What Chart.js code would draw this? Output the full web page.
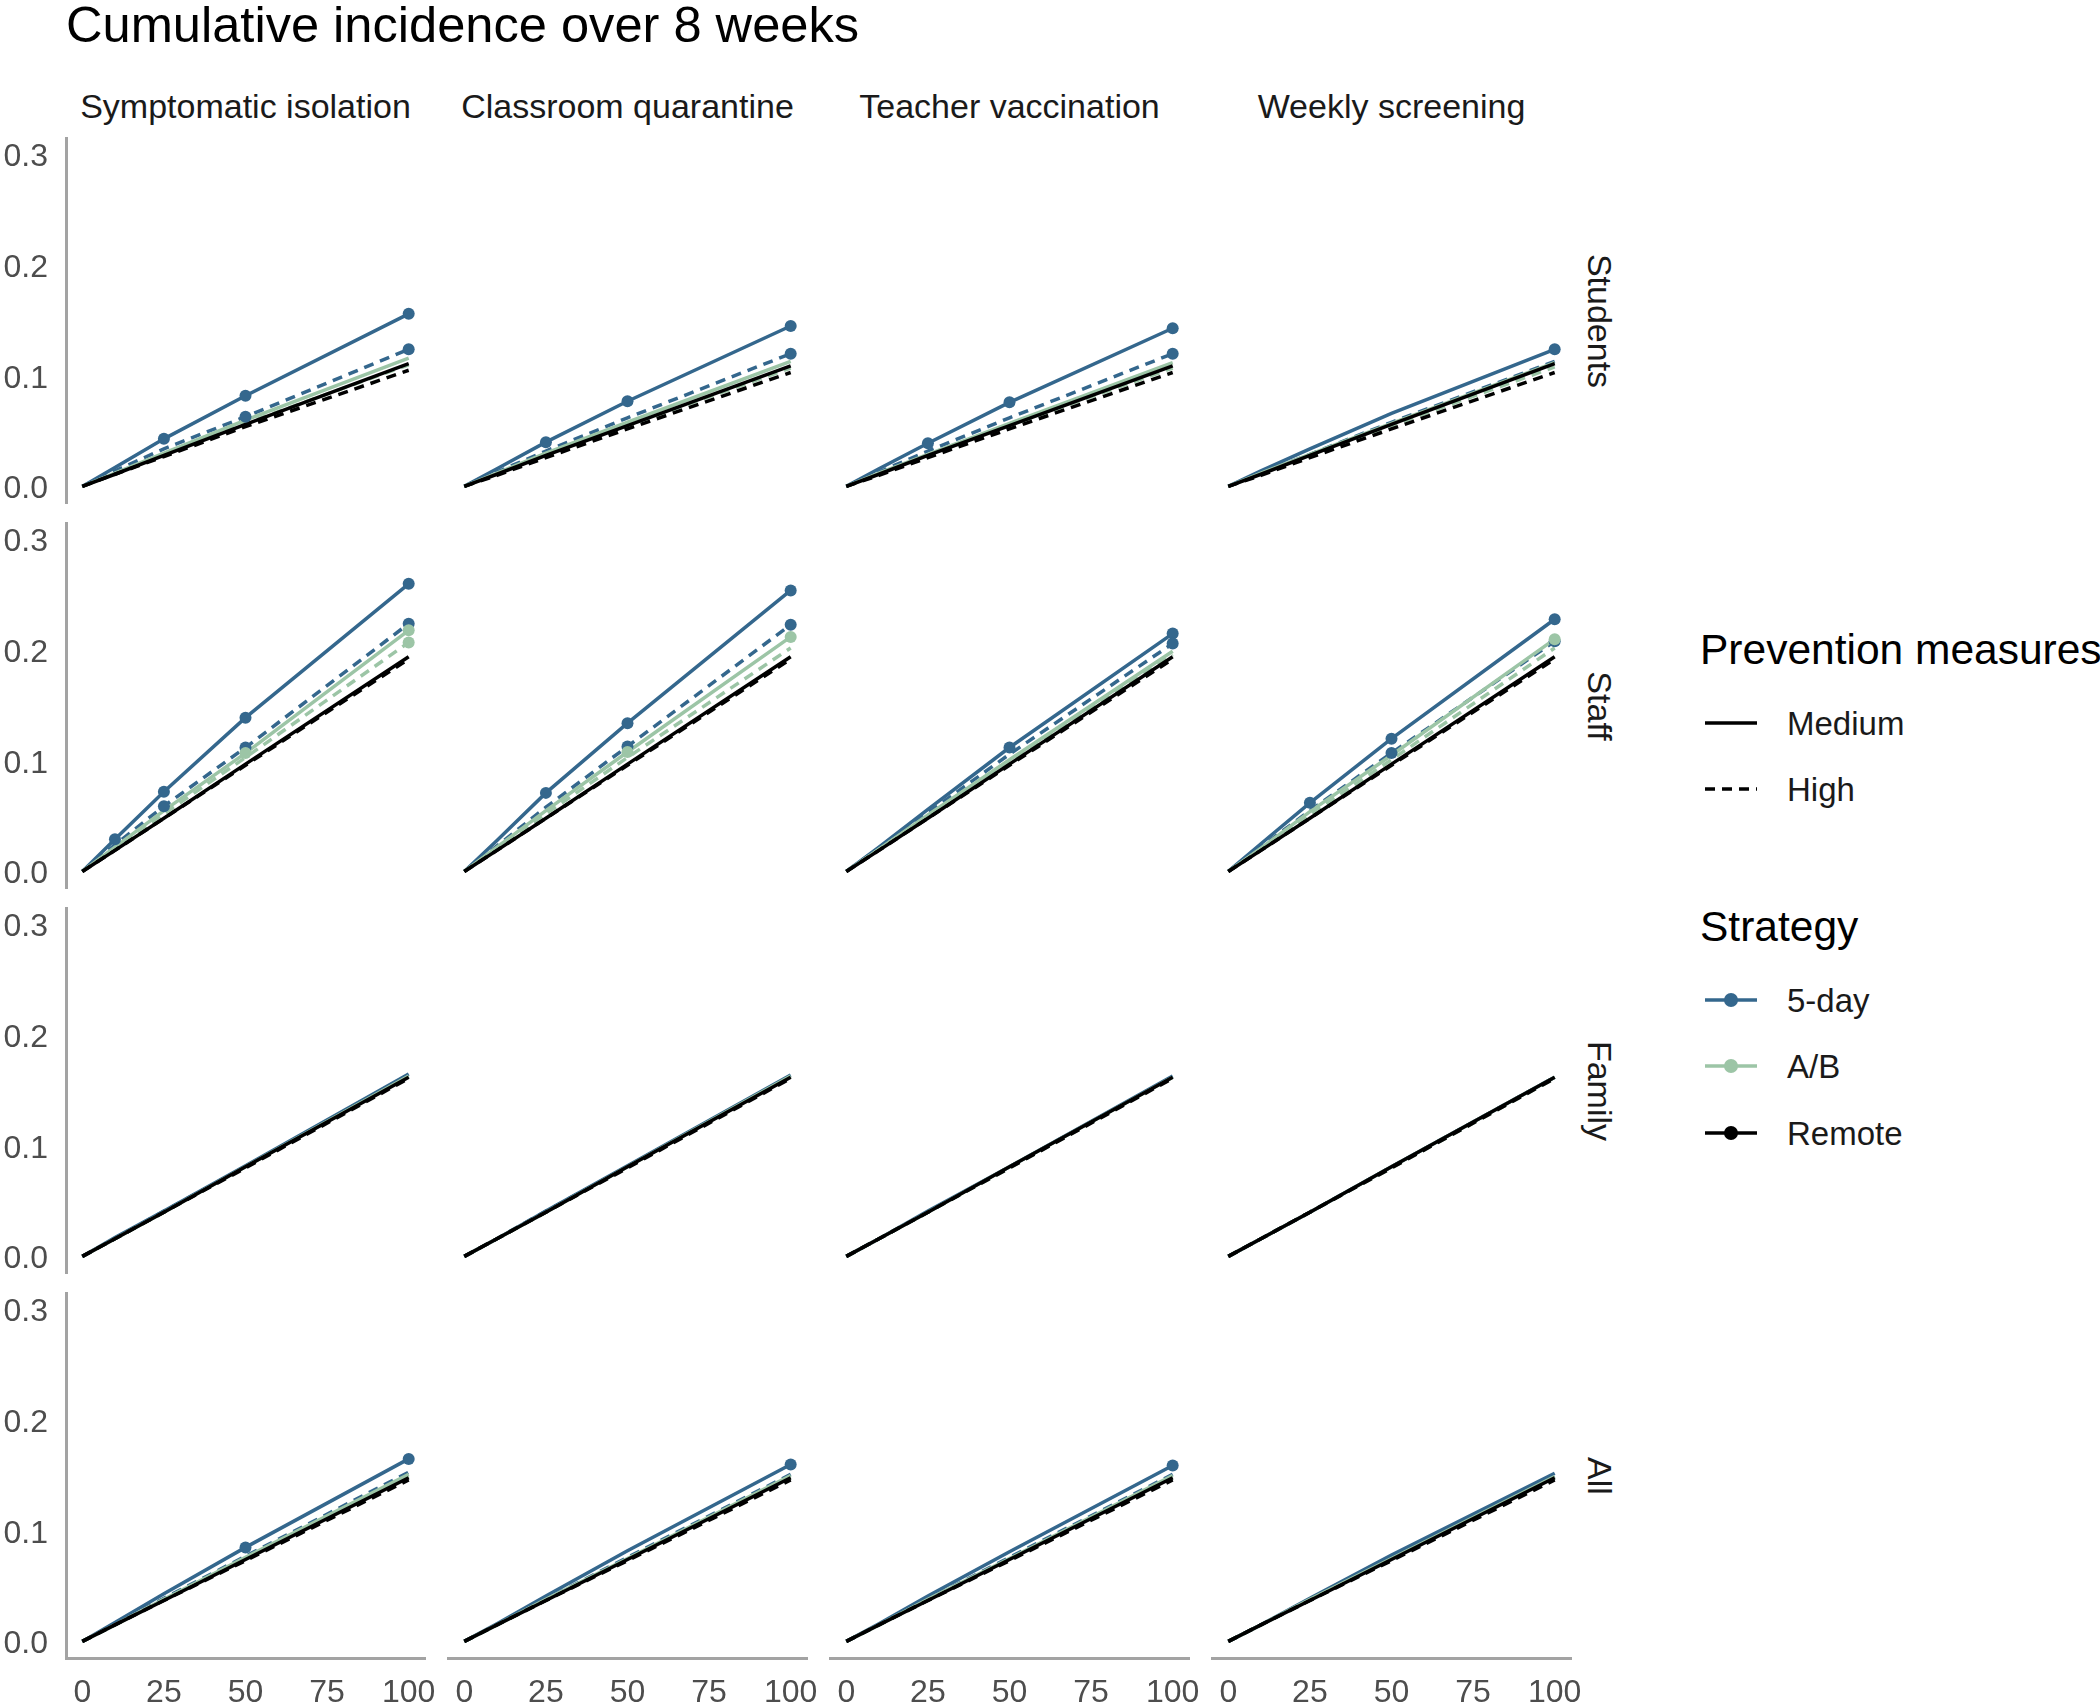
<!DOCTYPE html>
<html>
<head>
<meta charset="utf-8">
<script src="https://cdn.jsdelivr.net/npm/chart.js@4.4.1/dist/chart.umd.min.js"></script>
<style>
  body { margin: 0; background: #fff; font-family: 'Liberation Sans', Arial, sans-serif; }
  #page { position: relative; width: 2100px; height: 1702px; overflow: hidden; background: #fff; }
  .lbl { position: absolute; white-space: nowrap; line-height: 1; }
  .center { transform: translate(-50%, -50%); }
  .rot { transform: translate(-50%, -50%) rotate(90deg); }
</style>
</head>
<body>
<div id="page"></div>
<script>
// ---- data ----
const xValues = [0, 10, 25, 50, 100];
const xTicks = [0, 25, 50, 75, 100];
const yTicks = [0, 0.1, 0.2, 0.3];
const interventions = ['Symptomatic isolation', 'Classroom quarantine', 'Teacher vaccination', 'Weekly screening'];
const groups = ['Students', 'Staff', 'Family', 'All'];
const strategies = ['5-day', 'A/B', 'Remote'];
const measures = ['Medium', 'High'];

// one row per intervention (columns of the grid), values at xValues
const studentsFiveDayMedium = [
  [0, 0.017, 0.043, 0.082, 0.156],
  [0, 0.016, 0.040, 0.077, 0.145],
  [0, 0.016, 0.039, 0.076, 0.143],
  [0, 0.014, 0.034, 0.066, 0.124]];
const studentsFiveDayHigh = [
  [0, 0.014, 0.034, 0.063, 0.124],
  [0, 0.013, 0.032, 0.062, 0.120],
  [0, 0.013, 0.032, 0.062, 0.120],
  [0, 0.012, 0.029, 0.058, 0.113]];
const studentsABMedium = [
  [0, 0.012, 0.030, 0.060, 0.116],
  [0, 0.012, 0.030, 0.058, 0.113],
  [0, 0.012, 0.029, 0.057, 0.112],
  [0, 0.012, 0.029, 0.057, 0.112]];
const studentsABHigh = [
  [0, 0.011, 0.028, 0.057, 0.110],
  [0, 0.011, 0.028, 0.055, 0.107],
  [0, 0.011, 0.028, 0.055, 0.107],
  [0, 0.011, 0.028, 0.055, 0.108]];
const studentsRemoteMedium = [
  [0, 0.011, 0.028, 0.056, 0.111],
  [0, 0.011, 0.028, 0.055, 0.109],
  [0, 0.011, 0.028, 0.055, 0.109],
  [0, 0.011, 0.028, 0.056, 0.111]];
const studentsRemoteHigh = [
  [0, 0.011, 0.027, 0.054, 0.105],
  [0, 0.010, 0.026, 0.052, 0.103],
  [0, 0.010, 0.026, 0.052, 0.103],
  [0, 0.010, 0.026, 0.052, 0.103]];

const staffFiveDayMedium = [
  [0, 0.029, 0.072, 0.139, 0.260],
  [0, 0.028, 0.071, 0.134, 0.254],
  [0, 0.022, 0.056, 0.112, 0.215],
  [0, 0.025, 0.062, 0.120, 0.228]];
const staffFiveDayHigh = [
  [0, 0.024, 0.059, 0.112, 0.224],
  [0, 0.023, 0.058, 0.113, 0.223],
  [0, 0.021, 0.053, 0.106, 0.206],
  [0, 0.022, 0.055, 0.107, 0.208]];
const staffABMedium = [
  [0, 0.022, 0.055, 0.107, 0.218],
  [0, 0.022, 0.055, 0.108, 0.212],
  [0, 0.020, 0.051, 0.101, 0.199],
  [0, 0.021, 0.054, 0.105, 0.210]];
const staffABHigh = [
  [0, 0.021, 0.052, 0.103, 0.207],
  [0, 0.021, 0.052, 0.103, 0.202],
  [0, 0.020, 0.050, 0.099, 0.196],
  [0, 0.020, 0.051, 0.101, 0.202]];
const staffRemoteMedium = [
  [0, 0.019, 0.048, 0.097, 0.194],
  [0, 0.019, 0.048, 0.097, 0.194],
  [0, 0.019, 0.048, 0.097, 0.194],
  [0, 0.019, 0.048, 0.097, 0.194]];
const staffRemoteHigh = [
  [0, 0.019, 0.048, 0.096, 0.192],
  [0, 0.019, 0.048, 0.096, 0.192],
  [0, 0.019, 0.048, 0.096, 0.192],
  [0, 0.019, 0.048, 0.096, 0.192]];

const familyFiveDayMedium = [
  [0, 0.017, 0.041, 0.082, 0.165],
  [0, 0.016, 0.041, 0.082, 0.164],
  [0, 0.016, 0.041, 0.081, 0.163],
  [0, 0.016, 0.040, 0.081, 0.162]];
const familyFiveDayHigh = [
  [0, 0.016, 0.041, 0.081, 0.163],
  [0, 0.016, 0.041, 0.081, 0.163],
  [0, 0.016, 0.040, 0.081, 0.162],
  [0, 0.016, 0.040, 0.081, 0.162]];
const familyABMedium = [
  [0, 0.016, 0.040, 0.081, 0.163],
  [0, 0.016, 0.040, 0.081, 0.163],
  [0, 0.016, 0.040, 0.081, 0.162],
  [0, 0.016, 0.040, 0.081, 0.162]];
const familyABHigh = [
  [0, 0.016, 0.040, 0.081, 0.162],
  [0, 0.016, 0.040, 0.081, 0.162],
  [0, 0.016, 0.040, 0.080, 0.162],
  [0, 0.016, 0.040, 0.080, 0.161]];
const familyRemoteMedium = [
  [0, 0.016, 0.040, 0.081, 0.162],
  [0, 0.016, 0.040, 0.081, 0.162],
  [0, 0.016, 0.040, 0.081, 0.162],
  [0, 0.016, 0.040, 0.081, 0.162]];
const familyRemoteHigh = [
  [0, 0.016, 0.040, 0.080, 0.161],
  [0, 0.016, 0.040, 0.080, 0.161],
  [0, 0.016, 0.040, 0.080, 0.161],
  [0, 0.016, 0.040, 0.080, 0.161]];

const allFiveDayMedium = [
  [0, 0.017, 0.043, 0.085, 0.165],
  [0, 0.016, 0.041, 0.082, 0.160],
  [0, 0.016, 0.041, 0.081, 0.159],
  [0, 0.015, 0.039, 0.078, 0.152]];
const allFiveDayHigh = [
  [0, 0.015, 0.039, 0.077, 0.153],
  [0, 0.015, 0.038, 0.076, 0.151],
  [0, 0.015, 0.038, 0.076, 0.151],
  [0, 0.015, 0.038, 0.076, 0.149]];
const allABMedium = [
  [0, 0.015, 0.038, 0.076, 0.151],
  [0, 0.015, 0.038, 0.075, 0.150],
  [0, 0.015, 0.038, 0.075, 0.150],
  [0, 0.015, 0.038, 0.075, 0.149]];
const allABHigh = [
  [0, 0.015, 0.038, 0.075, 0.149],
  [0, 0.015, 0.037, 0.074, 0.148],
  [0, 0.015, 0.037, 0.074, 0.148],
  [0, 0.015, 0.037, 0.074, 0.148]];
const allRemoteMedium = [
  [0, 0.015, 0.037, 0.074, 0.148],
  [0, 0.015, 0.037, 0.074, 0.148],
  [0, 0.015, 0.037, 0.074, 0.148],
  [0, 0.015, 0.037, 0.074, 0.148]];
const allRemoteHigh = [
  [0, 0.015, 0.037, 0.073, 0.146],
  [0, 0.015, 0.037, 0.073, 0.146],
  [0, 0.015, 0.037, 0.073, 0.146],
  [0, 0.015, 0.037, 0.073, 0.146]];

// points that carry a marker: [group, intervention index, strategy, measure, x values]
const markedPoints = [
  ['Students', 0, '5-day', 'Medium', [25, 50, 100]],
  ['Students', 0, '5-day', 'High', [50, 100]],
  ['Students', 1, '5-day', 'Medium', [25, 50, 100]],
  ['Students', 1, '5-day', 'High', [100]],
  ['Students', 2, '5-day', 'Medium', [25, 50, 100]],
  ['Students', 2, '5-day', 'High', [100]],
  ['Students', 3, '5-day', 'Medium', [100]],
  ['Staff', 0, '5-day', 'Medium', [10, 25, 50, 100]],
  ['Staff', 0, '5-day', 'High', [25, 50, 100]],
  ['Staff', 0, 'A/B', 'Medium', [50, 100]],
  ['Staff', 0, 'A/B', 'High', [100]],
  ['Staff', 1, '5-day', 'Medium', [25, 50, 100]],
  ['Staff', 1, '5-day', 'High', [50, 100]],
  ['Staff', 1, 'A/B', 'Medium', [50, 100]],
  ['Staff', 2, '5-day', 'Medium', [50, 100]],
  ['Staff', 2, '5-day', 'High', [100]],
  ['Staff', 3, '5-day', 'Medium', [25, 50, 100]],
  ['Staff', 3, '5-day', 'High', [50, 100]],
  ['Staff', 3, 'A/B', 'Medium', [100]],
  ['All', 0, '5-day', 'Medium', [50, 100]],
  ['All', 1, '5-day', 'Medium', [100]],
  ['All', 2, '5-day', 'Medium', [100]]
];

const seriesTable = {
  Students: { '5-day': [studentsFiveDayMedium, studentsFiveDayHigh], 'A/B': [studentsABMedium, studentsABHigh], Remote: [studentsRemoteMedium, studentsRemoteHigh] },
  Staff: { '5-day': [staffFiveDayMedium, staffFiveDayHigh], 'A/B': [staffABMedium, staffABHigh], Remote: [staffRemoteMedium, staffRemoteHigh] },
  Family: { '5-day': [familyFiveDayMedium, familyFiveDayHigh], 'A/B': [familyABMedium, familyABHigh], Remote: [familyRemoteMedium, familyRemoteHigh] },
  All: { '5-day': [allFiveDayMedium, allFiveDayHigh], 'A/B': [allABMedium, allABHigh], Remote: [allRemoteMedium, allRemoteHigh] }
};

// ---- style / layout ----
const colors = { '5-day': '#34678d', 'A/B': '#9cc5a6', 'Remote': '#000000' };
const dashes = { Medium: [], High: [10, 7] };
const axisColor = '#a3a3a3';
const tickColor = '#4d4d4d';
const font = "'Liberation Sans', Arial, sans-serif";

const plotW = 359, plotH = 365;
const plotLeft = c => 66 + c * 382;
const plotTop = r => 138 + r * 385;
const P = 20, yAxisW = 66, xAxisH = 62;

Chart.defaults.font.family = font;

const page = document.getElementById('page');

function addLabel(text, x, y, size, cls, extra) {
  const d = document.createElement('div');
  d.className = 'lbl ' + (cls || '');
  d.textContent = text;
  d.style.left = x + 'px';
  d.style.top = y + 'px';
  d.style.fontSize = size + 'px';
  if (extra) Object.assign(d.style, extra);
  page.appendChild(d);
  return d;
}

// title
addLabel('Cumulative incidence over 8 weeks', 66, 0, 50.6, '', { color: '#000' });

// strips
interventions.forEach((iv, c) => addLabel(iv, plotLeft(c) + plotW / 2, 106, 34, 'center', { color: '#1a1a1a' }));
groups.forEach((g, r) => addLabel(g, 1600, plotTop(r) + plotH / 2, 34, 'rot', { color: '#1a1a1a' }));

function panelDatasets(group, c) {
  const lines = [];
  const points = [];
  strategies.forEach(s => {
    measures.forEach((m, mi) => {
      const vals = seriesTable[group][s][mi][c];
      lines.push({
        type: 'line',
        data: xValues.map((x, i) => ({ x: x, y: vals[i] })),
        borderColor: colors[s],
        borderWidth: 3.5,
        borderDash: dashes[m],
        pointRadius: 0,
        fill: false,
        tension: 0
      });
      const mark = markedPoints.find(p => p[0] === group && p[1] === c && p[2] === s && p[3] === m);
      if (mark) {
        points.push({
          type: 'scatter',
          data: mark[4].map(x => ({ x: x, y: vals[xValues.indexOf(x)] })),
          backgroundColor: colors[s],
          borderWidth: 0,
          pointRadius: 6,
          showLine: false
        });
      }
    });
  });
  // Chart.js draws the first dataset last (on top)
  return points.reverse().concat(lines.reverse());
}

groups.forEach((group, r) => {
  interventions.forEach((iv, c) => {
    const firstCol = c === 0;
    const lastRow = r === groups.length - 1;
    const left = plotLeft(c) - P - (firstCol ? yAxisW : 0);
    const top = plotTop(r) - P;
    const w = plotW + 2 * P + (firstCol ? yAxisW : 0);
    const h = plotH + 2 * P + (lastRow ? xAxisH : 0);
    const canvas = document.createElement('canvas');
    canvas.width = w;
    canvas.height = h;
    canvas.style.cssText = `position:absolute;left:${left}px;top:${top}px;width:${w}px;height:${h}px`;
    page.appendChild(canvas);

    new Chart(canvas.getContext('2d'), {
      type: 'line',
      data: { datasets: panelDatasets(group, c) },
      options: {
        responsive: false,
        animation: false,
        devicePixelRatio: 1,
        layout: { padding: P },
        plugins: { legend: { display: false }, tooltip: { enabled: false } },
        scales: {
          x: {
            type: 'linear', min: -5, max: 105, display: lastRow,
            afterBuildTicks: s => { s.ticks = xTicks.map(v => ({ value: v })); },
            afterFit: s => {
              if (lastRow) s.height = xAxisH;
              s.paddingLeft = 0; s.paddingRight = 0;
            },
            grid: { display: false, drawTicks: false },
            border: { display: true, color: axisColor, width: 3 },
            ticks: { padding: 16, color: tickColor, font: { size: 32 }, maxRotation: 0, autoSkip: false, callback: v => String(v) }
          },
          y: {
            type: 'linear', min: -0.015, max: 0.315, display: firstCol,
            afterBuildTicks: s => { s.ticks = yTicks.map(v => ({ value: v })); },
            afterFit: s => {
              if (firstCol) s.width = yAxisW;
              s.paddingTop = 0; s.paddingBottom = 0;
            },
            grid: { display: false, drawTicks: false },
            border: { display: true, color: axisColor, width: 3 },
            ticks: { padding: 18, labelOffset: 3, color: tickColor, font: { size: 32 }, autoSkip: false, callback: v => Number(v).toFixed(1) }
          }
        }
      }
    });
  });
});

// legend
function legendKey(x, y, color, dash, dot) {
  const ns = 'http://www.w3.org/2000/svg';
  const svg = document.createElementNS(ns, 'svg');
  svg.setAttribute('width', 56);
  svg.setAttribute('height', 20);
  svg.style.position = 'absolute';
  svg.style.left = x + 'px';
  svg.style.top = (y - 10) + 'px';
  const line = document.createElementNS(ns, 'line');
  line.setAttribute('x1', 2); line.setAttribute('x2', 54);
  line.setAttribute('y1', 10); line.setAttribute('y2', 10);
  line.setAttribute('stroke', color);
  line.setAttribute('stroke-width', 3.5);
  if (dash) line.setAttribute('stroke-dasharray', dash.join(' '));
  svg.appendChild(line);
  if (dot) {
    const c = document.createElementNS(ns, 'circle');
    c.setAttribute('cx', 28); c.setAttribute('cy', 10); c.setAttribute('r', 7);
    c.setAttribute('fill', color);
    svg.appendChild(c);
  }
  page.appendChild(svg);
}

const legendX = 1700, keyX = 1703, labelX = 1787;
addLabel('Prevention measures', legendX, 650, 42.5, '', { transform: 'translateY(-50%)', color: '#000' });
[['Medium', 723], ['High', 789]].forEach(([m, y]) => {
  legendKey(keyX, y, '#000', dashes[m].length ? dashes[m] : null, false);
  addLabel(m, labelX, y, 33, '', { transform: 'translateY(-50%)', color: '#1a1a1a' });
});
addLabel('Strategy', legendX, 927, 42.5, '', { transform: 'translateY(-50%)', color: '#000' });
[['5-day', 1000], ['A/B', 1066], ['Remote', 1133]].forEach(([s, y]) => {
  legendKey(keyX, y, colors[s], null, true);
  addLabel(s, labelX, y, 33, '', { transform: 'translateY(-50%)', color: '#1a1a1a' });
});
</script>
</body>
</html>
